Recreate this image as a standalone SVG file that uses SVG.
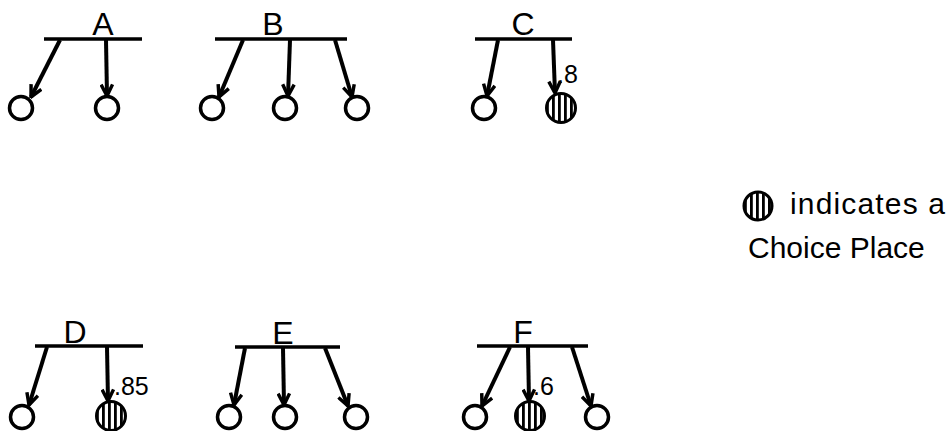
<svg xmlns="http://www.w3.org/2000/svg" width="952" height="431" viewBox="0 0 952 431">
  <style>
    .bar { stroke: #000; stroke-width: 3.5; fill: none; stroke-linecap: butt; }
    .arc { stroke: #000; stroke-width: 4; fill: none; marker-end: url(#barb); }
    .place { stroke: #000; stroke-width: 3.5; fill: #fff; }
    .choice { stroke: #000; stroke-width: 3; fill: url(#stripes); }
    .lbl { font-family: "Liberation Sans", Arial, sans-serif; font-size: 32px; fill: #000; text-anchor: middle; }
    .prob { font-family: "Liberation Sans", Arial, sans-serif; font-size: 25px; fill: #000; }
    .legend { font-family: "Liberation Sans", Arial, sans-serif; font-size: 30px; fill: #000; }
  </style>
  <defs>
    <marker id="barb" viewBox="0 0 10 10" refX="9" refY="5" markerWidth="3.6" markerHeight="3.6" orient="auto" markerUnits="strokeWidth">
      <path d="M1,1 L9,5 L1,9" fill="none" stroke="#000" stroke-width="2.4" stroke-linejoin="miter"/>
    </marker>
    <pattern id="stripes" patternUnits="userSpaceOnUse" width="6" height="6">
      <rect width="6" height="6" fill="#fff"/>
      <rect x="0" width="2.8" height="6" fill="#000"/>
    </pattern>
  </defs>

  <!-- transition bars with their names -->
  <g id="transition-A">
    <line class="bar" x1="44" y1="39" x2="142" y2="39"/>
    <text class="lbl" x="103" y="35">A</text>
  </g>
  <g id="transition-B">
    <line class="bar" x1="215" y1="39" x2="347" y2="39"/>
    <text class="lbl" x="273" y="35">B</text>
  </g>
  <g id="transition-C">
    <line class="bar" x1="475" y1="39" x2="572" y2="39"/>
    <text class="lbl" x="523" y="35">C</text>
  </g>
  <g id="transition-D">
    <line class="bar" x1="35" y1="346" x2="143" y2="346"/>
    <text class="lbl" x="75" y="343">D</text>
  </g>
  <g id="transition-E">
    <line class="bar" x1="235" y1="347" x2="340" y2="347"/>
    <text class="lbl" x="283" y="344">E</text>
  </g>
  <g id="transition-F">
    <line class="bar" x1="477" y1="346" x2="588" y2="346"/>
    <text class="lbl" x="523" y="343">F</text>
  </g>

  <!-- output places (striped = choice place) -->
  <g id="place-A1"><circle class="place" cx="21" cy="108" r="11.5"/></g>
  <g id="place-A2"><circle class="place" cx="107" cy="108" r="11.5"/></g>
  <g id="place-B1"><circle class="place" cx="212" cy="108" r="11.5"/></g>
  <g id="place-B2"><circle class="place" cx="285" cy="108" r="11.5"/></g>
  <g id="place-B3"><circle class="place" cx="357" cy="108" r="11.5"/></g>
  <g id="place-C1"><circle class="place" cx="484" cy="108" r="11.5"/></g>
  <g id="place-C2">
    <circle class="choice" cx="561" cy="108" r="14.5"/>
    <text class="prob" x="557" y="83">.8</text>
  </g>
  <g id="place-D1"><circle class="place" cx="22" cy="417" r="11.5"/></g>
  <g id="place-D2">
    <circle class="choice" cx="111" cy="416" r="14.5"/>
    <text class="prob" x="114" y="395">.85</text>
  </g>
  <g id="place-E1"><circle class="place" cx="229" cy="417" r="11.5"/></g>
  <g id="place-E2"><circle class="place" cx="285" cy="417" r="11.5"/></g>
  <g id="place-E3"><circle class="place" cx="356" cy="417" r="11.5"/></g>
  <g id="place-F1"><circle class="place" cx="475" cy="417" r="11.5"/></g>
  <g id="place-F2">
    <circle class="choice" cx="530" cy="416" r="14.5"/>
    <text class="prob" x="533" y="395">.6</text>
  </g>
  <g id="place-F3"><circle class="place" cx="597" cy="417" r="11.5"/></g>

  <!-- arcs from transitions to places -->
  <g id="arcs">
    <line class="arc" x1="60" y1="40" x2="31" y2="97"/>
    <line class="arc" x1="106" y1="40" x2="107" y2="96"/>
    <line class="arc" x1="243" y1="40" x2="219" y2="97"/>
    <line class="arc" x1="290" y1="40" x2="288" y2="96"/>
    <line class="arc" x1="335" y1="40" x2="352" y2="97"/>
    <line class="arc" x1="498" y1="40" x2="487" y2="96"/>
    <line class="arc" x1="553" y1="40" x2="555" y2="93"/>
    <line class="arc" x1="47" y1="347" x2="29" y2="405"/>
    <line class="arc" x1="107" y1="347" x2="108" y2="401"/>
    <line class="arc" x1="245" y1="348" x2="234" y2="405"/>
    <line class="arc" x1="283" y1="348" x2="284" y2="405"/>
    <line class="arc" x1="325" y1="348" x2="348" y2="406"/>
    <line class="arc" x1="510" y1="347" x2="482" y2="406"/>
    <line class="arc" x1="528" y1="347" x2="529" y2="401"/>
    <line class="arc" x1="572" y1="347" x2="591" y2="406"/>
  </g>

  <!-- legend -->
  <g id="legend">
    <circle class="choice" cx="758" cy="206" r="14"/>
    <text class="legend" x="790" y="214" textLength="155" lengthAdjust="spacing">indicates a</text>
    <text class="legend" x="748" y="258">Choice Place</text>
  </g>
</svg>
